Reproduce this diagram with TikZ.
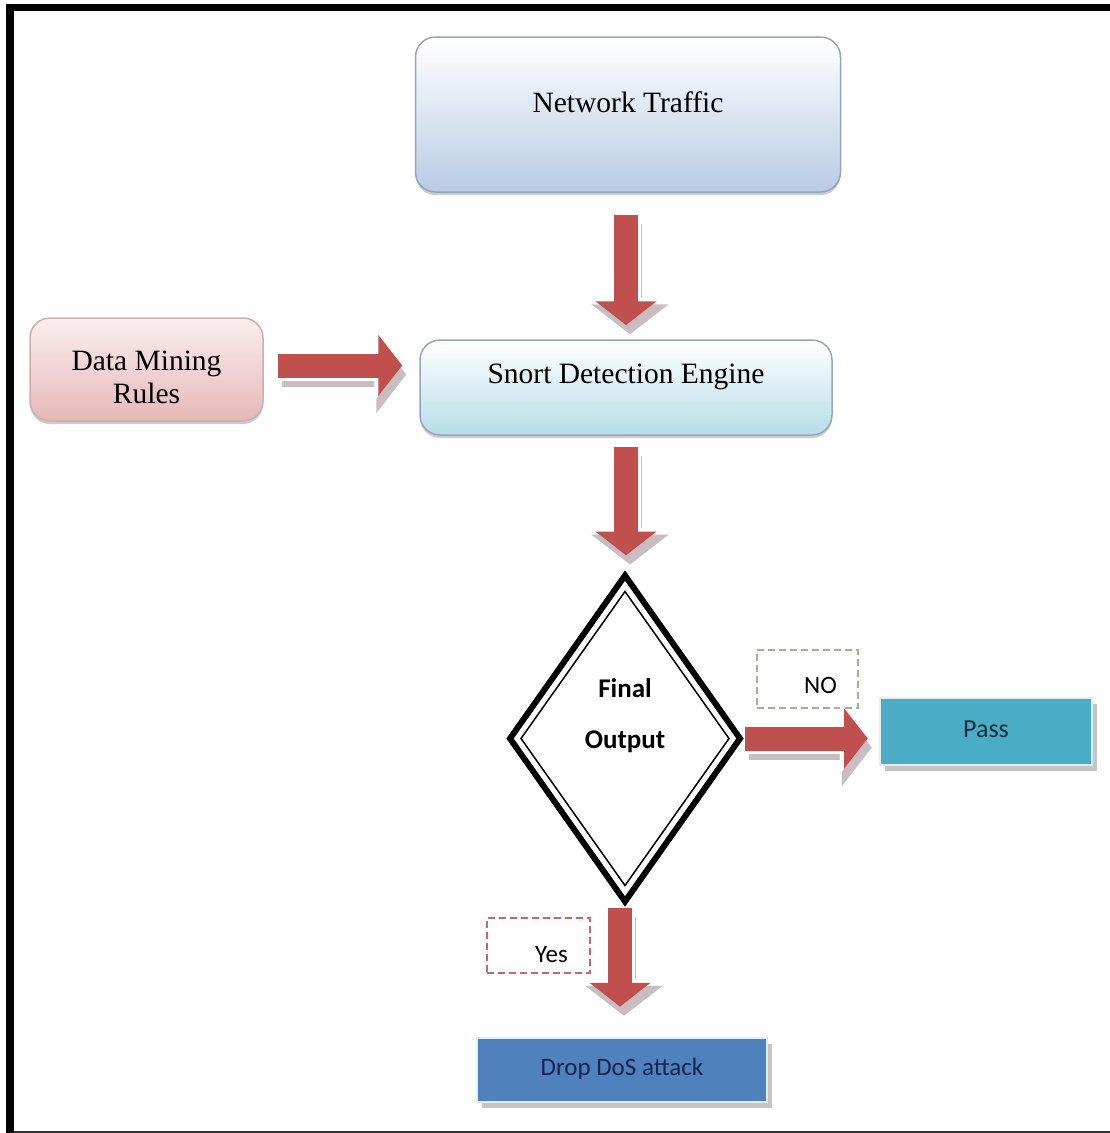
\documentclass[tikz,border=0pt]{standalone}
\usepackage{fontspec}
\setmainfont{Liberation Serif}
\newfontfamily\calibri{Carlito}
\usetikzlibrary{shapes.geometric,arrows.meta,calc,shadows}

\definecolor{arrred}{RGB}{192,80,77}
\definecolor{arrshadow}{RGB}{200,190,193}
\definecolor{ntbot}{RGB}{184,204,228}
\definecolor{ntborder}{RGB}{150,165,190}
\definecolor{sdebot}{RGB}{183,221,232}
\definecolor{dmrtop}{RGB}{251,238,238}
\definecolor{dmrbot}{RGB}{230,185,184}
\definecolor{passfill}{RGB}{75,172,198}
\definecolor{dropfill}{RGB}{79,129,189}
\definecolor{passtext}{RGB}{20,45,60}
\definecolor{droptext}{RGB}{22,36,80}
\definecolor{nodash}{RGB}{175,172,150}
\definecolor{yesdash}{RGB}{195,105,105}
\definecolor{rim}{RGB}{225,238,242}

\begin{document}
\begin{tikzpicture}[x=1pt,y=-1pt,
  roundbox/.style={rectangle, rounded corners=20pt, line width=1.5pt, draw=ntborder,
    drop shadow={shadow xshift=0pt, shadow yshift=-3pt, opacity=0.4}, inner sep=0pt},
  serifbig/.style={font=\fontsize{29.5}{33}\selectfont},
  flatbox/.style={rectangle, draw=rim, line width=2.5pt, inner sep=0pt,
    drop shadow={shadow xshift=5pt, shadow yshift=-6pt, opacity=0.45}},
  labelbox/.style={rectangle, dash pattern=on 7pt off 4pt, line width=1.2pt, inner sep=0pt,
    font=\calibri\fontsize{25}{30}\selectfont},
  blockarrow/.style={draw=arrred, line width=24pt, -{Triangle[length=24pt,width=60pt]},
    preaction={draw=arrshadow, line width=24pt, -{Triangle[length=30pt,width=76pt]},
      transform canvas={shift={(4pt,-9pt)}}},
    preaction={draw=white, line width=30pt, -{Triangle[length=28pt,width=70pt]}}},
]
\useasboundingbox (0,0) rectangle (1110,1133);
\fill[white] (0,0) rectangle (1110,1133);

% frame
\fill[black] (6,4) rectangle (14,1133);
\fill[black] (6,4) rectangle (1110,11);
\draw[line width=2pt, black!80] (14,1132) -- (1110,1132);

% nodes
\node[roundbox, top color=white, bottom color=ntbot, minimum width=425pt, minimum height=155pt, serifbig]
  (nt) at (628,114.5) {\raisebox{2.5pt}[0pt][0pt]{Network Traffic}};
\node[roundbox, top color=white, bottom color=sdebot, minimum width=412pt, minimum height=95pt, serifbig]
  (sde) at (626,387.5) {\raisebox{4.5pt}[0pt][0pt]{Snort Detection Engine}};
\node[roundbox, draw=dmrbot!80!gray, top color=dmrtop, bottom color=dmrbot, minimum width=233pt, minimum height=103pt, serifbig]
  (dmr) at (146.5,369.5) {\raisebox{-34pt}[0pt][0pt]{\begin{tabular}[b]{@{}c@{}}Data Mining\\Rules\end{tabular}}};

\node[diamond, draw=black, line width=6pt, minimum width=230pt, minimum height=326pt, inner sep=0pt, outer sep=0pt,
  font=\calibri\bfseries\fontsize{27}{33}\selectfont]
  (dia) at (625,738.5) {\raisebox{-9.5pt}[0pt][0pt]{\begin{tabular}[b]{@{}c@{}}Final\\[18pt]Output\end{tabular}}};
\draw[line width=1.5pt] ($(dia.north)+(0,16)$) -- ($(dia.east)+(-11,0)$) -- ($(dia.south)+(0,-16)$) -- ($(dia.west)+(11,0)$) -- cycle;

\node[flatbox, fill=passfill, minimum width=212pt, minimum height=67pt, text=passtext, font=\calibri\fontsize{26}{30}\selectfont]
  (pass) at (986,731.5) {\raisebox{-5.5pt}[0pt][0pt]{Pass}};
\node[flatbox, fill=dropfill, minimum width=290pt, minimum height=64pt, text=droptext, font=\calibri\fontsize{25}{30}\selectfont]
  (drop) at (622,1070) {\raisebox{-5pt}[0pt][0pt]{Drop DoS attack}};

\node[labelbox, draw=nodash, minimum width=101pt, minimum height=58pt]
  (no) at (807.5,679) {\raisebox{-14pt}[0pt][0pt]{\hspace*{26pt}NO}};
\node[labelbox, draw=yesdash, minimum width=103pt, minimum height=55pt]
  (yes) at (538.5,945.5) {\raisebox{-16.5pt}[0pt][0pt]{\hspace*{26pt}Yes}};

% connectors
\draw[blockarrow, shorten <=22pt, shorten >=14pt] (nt.south -| sde.north) -- (sde.north);
\draw[blockarrow, shorten <=14pt, shorten >=17pt] ($(dmr.east)+(0,-4)$) -- ($(dmr.east -| sde.west)+(0,-4)$);
\draw[blockarrow, shorten <=11pt, shorten >=20pt] (sde.south) -- (sde.south |- dia.north);
\draw[blockarrow, shorten <=5pt, shorten >=11pt] (dia.east) -- (dia.east -| pass.west);
\draw[blockarrow, shorten <=6pt, shorten >=30pt] ($(dia.south)+(-5,0)$) -- ($(dia.south |- drop.north)+(-5,0)$);
\end{tikzpicture}
\end{document}
